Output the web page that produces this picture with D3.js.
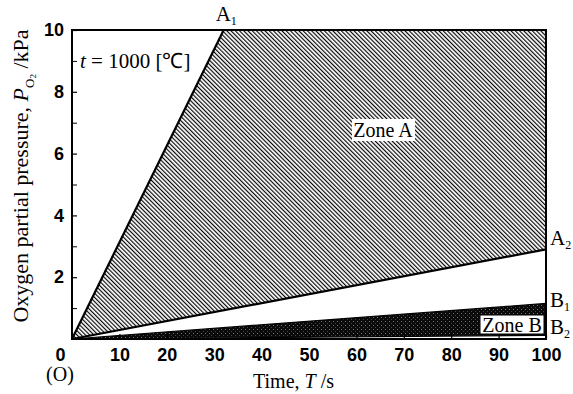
<!DOCTYPE html>
<html>
<head>
<meta charset="utf-8">
<script src="https://cdn.jsdelivr.net/npm/d3@7"></script>
<style>
body { margin: 0; background: #fff; }
svg { display: block; }
</style>
</head>
<body>
<svg width="573" height="394"></svg>
<script>
// data (T in s, P in kPa)
var xTicks = [0, 10, 20, 30, 40, 50, 60, 70, 80, 90, 100];
var yTicks = [2, 4, 6, 8, 10];
var yMinor = [1, 3, 5, 7, 9];
var lineA1 = [[0, 0], [32, 10]];
var lineA2 = [[0, 0], [100, 2.9]];
var lineB1 = [[0, 0], [100, 1.15]];
var lineB2 = [[0, 0], [100, 0.12]];
var zoneA = [[0, 0], [32, 10], [100, 10], [100, 2.9]];
var zoneB = [[0, 0], [100, 1.15], [100, 0.12]];

const svg = d3.select("svg");
var x = d3.scaleLinear().domain([0, 100]).range([72, 546]);
var y = d3.scaleLinear().domain([0, 10]).range([339, 30]);

var defs = svg.append("defs");
var hatch = defs.append("pattern")
  .attr("id", "hatch")
  .attr("patternUnits", "userSpaceOnUse")
  .attr("width", 3).attr("height", 3)
  .attr("patternTransform", "rotate(-45)");
hatch.append("rect").attr("width", 3).attr("height", 3).attr("fill", "#fff");
hatch.append("line").attr("x1", 0.6).attr("y1", 0).attr("x2", 0.6).attr("y2", 3)
  .attr("stroke", "#000").attr("stroke-width", 1.15);

var stip = defs.append("pattern")
  .attr("id", "stip")
  .attr("patternUnits", "userSpaceOnUse")
  .attr("width", 4).attr("height", 4);
stip.append("rect").attr("width", 4).attr("height", 4).attr("fill", "#0a0a0a");
stip.append("rect").attr("x", 1).attr("y", 1).attr("width", 1).attr("height", 1).attr("fill", "#777");
stip.append("rect").attr("x", 3).attr("y", 3).attr("width", 1).attr("height", 1).attr("fill", "#444");

var line = d3.line().x(d => x(d[0])).y(d => y(d[1]));

svg.append("path").datum(zoneA).attr("d", line.curve(d3.curveLinearClosed))
  .attr("fill", "url(#hatch)");
svg.append("path").datum(zoneB).attr("d", line)
  .attr("fill", "url(#stip)");

line.curve(d3.curveLinear);
[lineA1, lineA2, lineB1, lineB2].forEach(function(l, i) {
  svg.append("path").datum(l).attr("d", line)
    .attr("fill", "none").attr("stroke", "#000")
    .attr("stroke-width", i < 2 ? 2.2 : 1.2);
});

// frame
svg.append("rect")
  .attr("x", x(0)).attr("y", y(10))
  .attr("width", x(100) - x(0)).attr("height", y(0) - y(10))
  .attr("fill", "none").attr("stroke", "#000").attr("stroke-width", 2);

// axes
var xAxis = svg.append("g").attr("transform", "translate(0," + y(0) + ")")
  .call(d3.axisBottom(x).tickValues(xTicks).tickSizeInner(-5).tickSizeOuter(0).tickPadding(9));
var yAxis = svg.append("g").attr("transform", "translate(" + x(0) + ",0)")
  .call(d3.axisLeft(y).tickValues(yTicks).tickSizeInner(-5).tickSizeOuter(0).tickPadding(8));
svg.append("g").attr("transform", "translate(" + x(0) + ",0)")
  .call(d3.axisLeft(y).tickValues(yMinor).tickSizeInner(-5).tickSizeOuter(0).tickFormat(""));
[xAxis, yAxis].forEach(function(g) {
  g.selectAll(".tick line").attr("stroke", "#000").attr("stroke-width", 1.2);
  g.selectAll("text").attr("font-family", "Liberation Sans, Arial, sans-serif")
    .attr("font-weight", "bold").attr("font-size", 18).attr("fill", "#000");
});
svg.selectAll(".domain").remove();
xAxis.selectAll(".tick").filter(d => d === 0).select("text").attr("dx", -12);

var serif = "Liberation Serif, Times New Roman, serif";
function txt(px, py, s, size, anchor) {
  return svg.append("text").attr("x", px).attr("y", py)
    .attr("font-family", serif).attr("font-size", size || 20)
    .attr("text-anchor", anchor || "start").attr("fill", "#000").text(s);
}

txt(60, 381, "(O)", 20, "middle");
var xl = txt(253, 388, "Time, ", 20);
xl.append("tspan").attr("font-style", "italic").text("T");
xl.append("tspan").text(" /s");

var yl = svg.append("text").attr("transform", "translate(28,176) rotate(-90)")
  .attr("font-family", serif).attr("font-size", 22).attr("text-anchor", "middle")
  .text("Oxygen partial pressure,  ");
yl.append("tspan").attr("font-style", "italic").text("P");
yl.append("tspan").attr("font-size", 13).attr("dy", 6).text("O");
yl.append("tspan").attr("font-size", 9).attr("dy", 2).text("2");
yl.append("tspan").attr("dy", -8).text(" /kPa");

var tl = txt(80, 68, "", 21);
tl.append("tspan").attr("font-style", "italic").text("t");
tl.append("tspan").text(" = 1000 [℃]");

// zone labels
svg.append("rect").attr("x", 352).attr("y", 119).attr("width", 63).attr("height", 22).attr("fill", "#fff");
txt(383, 137, "Zone A", 20, "middle");
svg.append("rect").attr("x", 480).attr("y", 315).attr("width", 64).attr("height", 19)
  .attr("fill", "#fff").attr("stroke", "#000").attr("stroke-width", 1);
txt(512, 332, "Zone B", 20, "middle");

function lab(px, py, s, sub) {
  var t = txt(px, py, s, 21);
  t.append("tspan").attr("font-size", 12).attr("dy", 4).text(sub);
}
lab(x(32) - 8, 21, "A", "1");
lab(550, 245, "A", "2");
lab(550, 307, "B", "1");
lab(550, 334, "B", "2");
</script>
</body>
</html>
